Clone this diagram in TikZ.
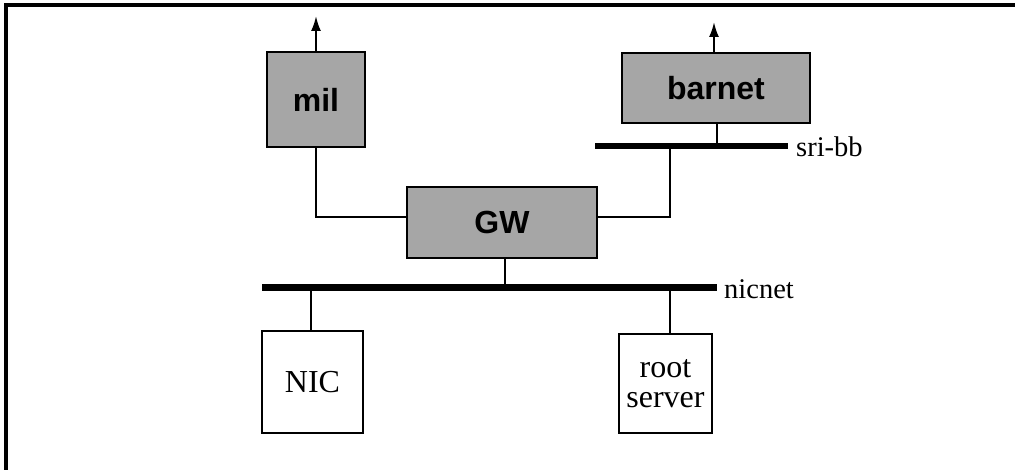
\documentclass[tikz,border=0pt]{standalone}
\usepackage{fontspec}
\setmainfont{Liberation Serif}
\setsansfont{Liberation Sans}
\usetikzlibrary{arrows.meta}
\tikzset{
  shaded/.style={draw=black, line width=2.6pt, fill=black!35, inner sep=0pt,
    font=\sffamily\bfseries\fontsize{32}{34}\selectfont},
  plainbox/.style={draw=black, line width=2.4pt, fill=white, inner sep=0pt, align=center,
    font=\fontsize{32}{30}\selectfont},
  bus/.style={fill=black, inner sep=0pt, minimum height=7pt},
  link/.style={draw=black, line width=2pt},
  uparrow/.style={link, -{Latex[length=15pt,width=10pt]}},
  netlabel/.style={anchor=west, inner sep=0pt, font=\fontsize{28.5}{28}\selectfont}
}
\begin{document}
\begin{tikzpicture}[x=1pt,y=-1pt]
\useasboundingbox (0,0) rectangle (1015,470);
% frame (top and left only)
\draw[line width=3.5pt] (6,470) -- (6,5) -- (1015,5);

% boxes
\node[shaded, minimum width=98pt, minimum height=95pt] (mil) at (316,99.5) {mil};
\node[shaded, minimum width=188pt, minimum height=70pt] (barnet) at (716,88) {barnet};
\node[shaded, minimum width=190pt, minimum height=71pt] (gw) at (502,222.5) {GW};
\node[plainbox, minimum width=101pt, minimum height=102pt] (nic) at (312.5,382) {NIC};
\node[plainbox, minimum width=93pt, minimum height=99pt] (root) at (665.5,383.5) {root\\server};

% buses
\node[bus, minimum width=455pt] (nicnet) at (489.5,288) {};
\node[bus, minimum width=193pt, minimum height=6pt] (sribb) at (691.5,146) {};
\node[netlabel] (nicnetlbl) at (724,289) {nicnet};
\node[netlabel] (sribblbl) at (796,147) {sri-bb};

% external arrows
\coordinate (milout) at (316,16);
\coordinate (barout) at (714,22);
\draw[uparrow] (mil.north) -- (milout);
\draw[uparrow] (barnet.north -| barout) -- (barout);

% links
\coordinate (gwl) at ([yshift=5.5pt]gw.west);
\coordinate (gwr) at ([yshift=5.5pt]gw.east);
\coordinate (sriA) at (670,146);
\draw[link] (mil.south) |- (gwl);
\draw[link] (gwr) -| (sriA);
\draw[link] (barnet.south -| 717,0) -- (sribb.center -| 717,0);
\draw[link] (gw.south -| 505,0) -- (nicnet.center -| 505,0);
\draw[link] (nicnet.center -| 311,0) -- (nic.north -| 311,0);
\draw[link] (nicnet.center -| 670,0) -- (root.north -| 670,0);
\end{tikzpicture}
\end{document}
